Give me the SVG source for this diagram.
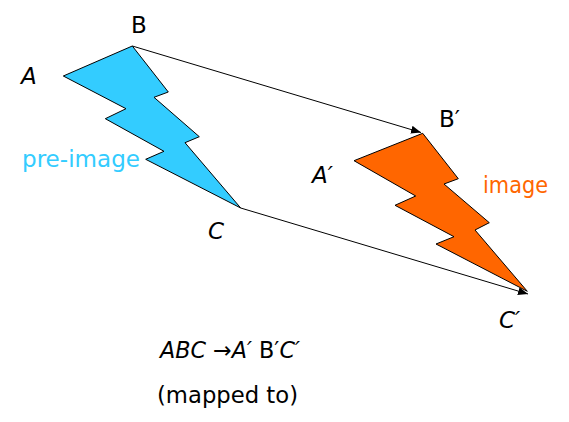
<svg xmlns="http://www.w3.org/2000/svg" width="569" height="422" viewBox="0 0 569 422">
<defs>
<marker id="ah" markerWidth="10" markerHeight="8" refX="10" refY="4" orient="auto" markerUnits="userSpaceOnUse">
<path d="M0,0 L10,4 L0,8 Z" fill="#000"/>
</marker>
<style>
.lbl{font-family:"DejaVu Sans",sans-serif;font-size:23px;fill:#000}
.it{font-style:italic}
.shape{stroke:#000;stroke-width:1}
.conn{stroke:#000;stroke-width:1;fill:none}
</style>
</defs>
<rect width="569" height="422" fill="#fff"/>
<g id="connectors">
<line class="conn" x1="132.3" y1="46" x2="421" y2="132.5" marker-end="url(#ah)"/>
<line class="conn" x1="240.7" y1="208" x2="528" y2="294" marker-end="url(#ah)"/>
</g>
<g id="preimage">
<polygon class="shape" fill="#33CCFF" points="132.3,46 168.3,92 154,97.3 199.3,136.7 185,142.7 240.7,208 145.7,159.3 164,151.3 105.3,118.7 126,108.7 63.3,76"/>
<text class="lbl" x="131" y="33">B</text>
<text class="lbl it" x="21" y="84">A</text>
<text class="lbl it" x="208" y="239">C</text>
<text x="22" y="167" font-family="DejaVu Sans, sans-serif" font-size="23" fill="#33CCFF" textLength="118" lengthAdjust="spacingAndGlyphs">pre-image</text>
</g>
<g id="image">
<polygon class="shape" fill="#FF6600" points="422.7,133.3 458.3,178.7 444,184 489.3,222.7 475,230 527.3,291.3 436,244 454,236.7 395,205.3 415.7,196 354,160.7"/>
<text class="lbl" x="439" y="127">B′</text>
<text class="lbl it" x="312" y="183">A′</text>
<text class="lbl it" x="499" y="328">C′</text>
<text x="483" y="193" font-family="DejaVu Sans, sans-serif" font-size="23" fill="#FF6600" textLength="65" lengthAdjust="spacingAndGlyphs">image</text>
</g>
<g id="caption">
<text class="lbl" x="160" y="358" textLength="140" lengthAdjust="spacingAndGlyphs"><tspan font-style="italic">ABC</tspan> →<tspan font-style="italic">A′</tspan> B′<tspan font-style="italic">C′</tspan></text>
<text class="lbl" x="157" y="403" textLength="141" lengthAdjust="spacingAndGlyphs">(mapped to)</text>
</g>
</svg>
